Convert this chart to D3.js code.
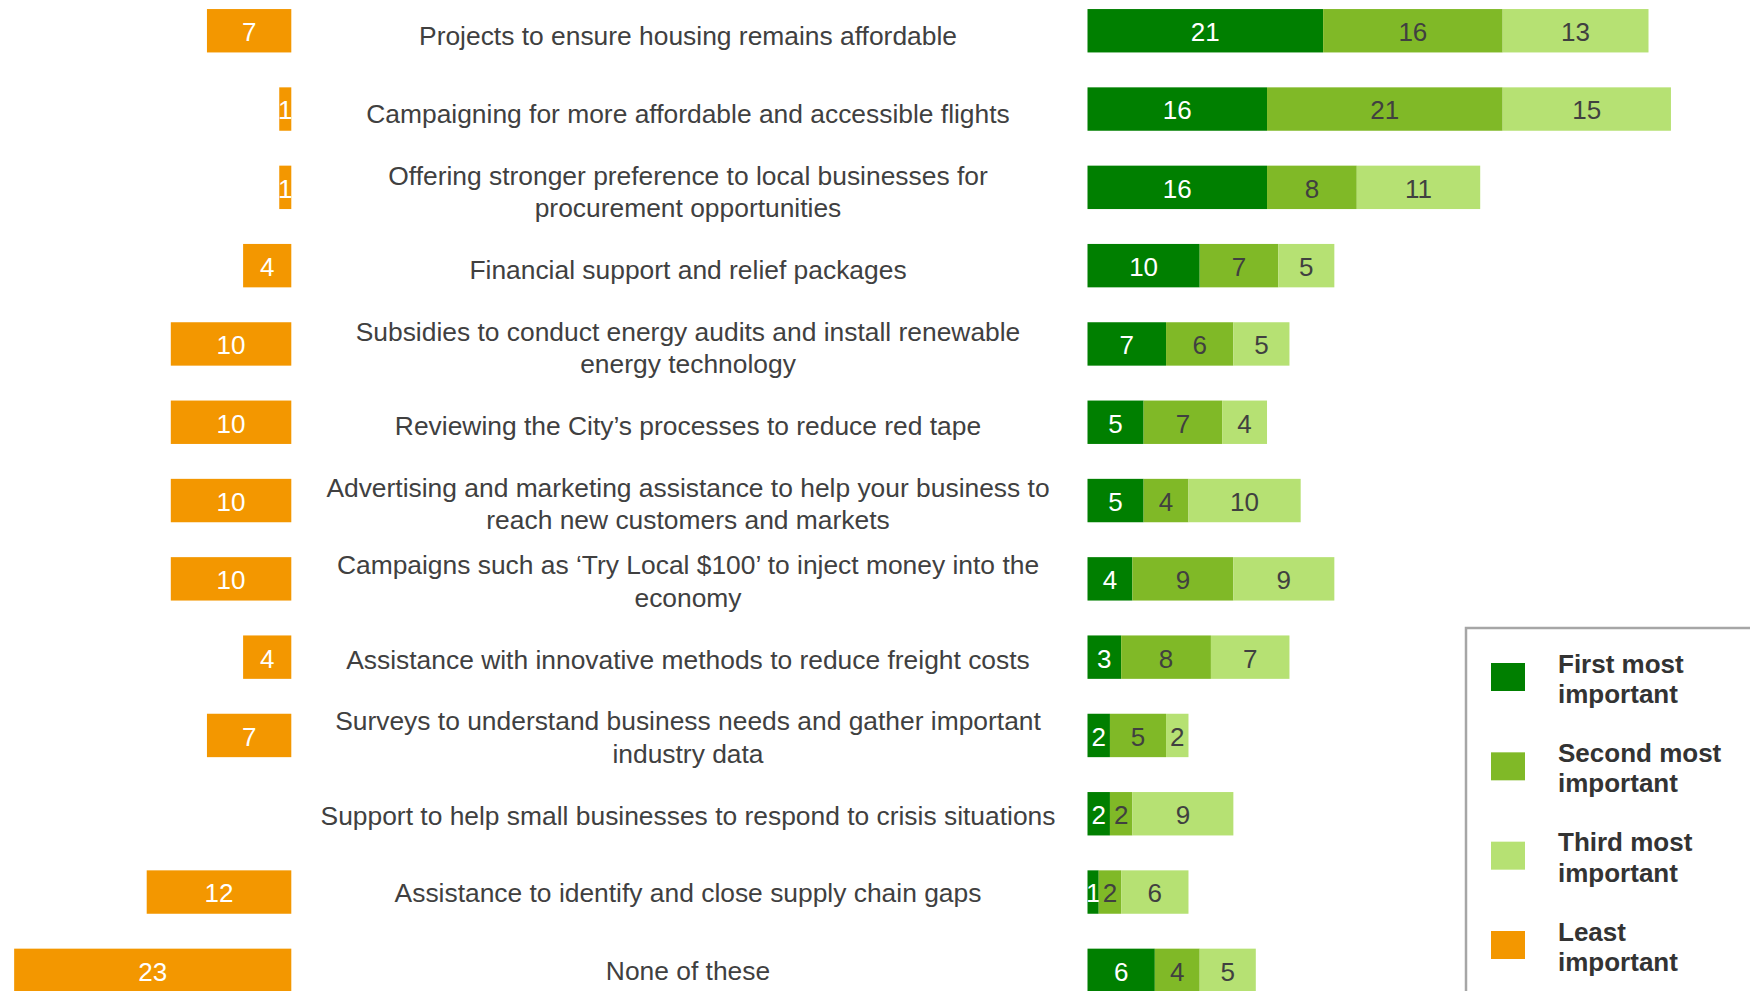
<!DOCTYPE html>
<html>
<head>
<meta charset="utf-8">
<script src="https://cdn.jsdelivr.net/npm/d3@7"></script>
<style>
  html, body { margin: 0; padding: 0; background: #fff; }
  svg { display: block; font-family: "Liberation Sans", Arial, sans-serif; }
</style>
</head>
<body>
<svg id="chart" width="1750" height="991"></svg>
<script>
// Support measures, top to bottom ("\n" marks the line break in the label)
const categories = [
  "Projects to ensure housing remains affordable",
  "Campaigning for more affordable and accessible flights",
  "Offering stronger preference to local businesses for\nprocurement opportunities",
  "Financial support and relief packages",
  "Subsidies to conduct energy audits and install renewable\nenergy technology",
  "Reviewing the City\u2019s processes to reduce red tape",
  "Advertising and marketing assistance to help your business to\nreach new customers and markets",
  "Campaigns such as \u2018Try Local $100\u2019 to inject money into the\neconomy",
  "Assistance with innovative methods to reduce freight costs",
  "Surveys to understand business needs and gather important\nindustry data",
  "Support to help small businesses to respond to crisis situations",
  "Assistance to identify and close supply chain gaps",
  "None of these"
];

const firstMost  = [21, 16, 16, 10, 7, 5, 5, 4, 3, 2, 2, 1, 6];
const secondMost = [16, 21,  8,  7, 6, 7, 4, 9, 8, 5, 2, 2, 4];
const thirdMost  = [13, 15, 11,  5, 5, 4, 10, 9, 7, 2, 9, 6, 5];
const leastImportant = [7, 1, 1, 4, 10, 10, 10, 10, 4, 7, 0, 12, 23];

const seriesNames = ["First most important", "Second most important", "Third most important", "Least important"];
const legendLines = [["First most", "important"], ["Second most", "important"], ["Third most", "important"], ["Least", "important"]];
const colors = ["#007f00", "#80b927", "#b6e173", "#f39700"];
const valueTextColors = ["#ffffff", "#404040", "#404040", "#ffffff"];

const svg = d3.select("#chart");
const FS = 26;
const LABEL_FS = 26.4;

const y = d3.scaleBand()
  .domain(d3.range(categories.length))
  .range([-8.4, -8.4 + categories.length * 78.3])
  .paddingInner(0.4457)
  .paddingOuter(0.2228);

// Label rows sit on a slightly tighter pitch than the bars
const yLabel = d3.scaleLinear().domain([0, categories.length - 1]).range([35.8, 970.9]);

// Left side: "least important" bars growing leftwards
const xLeast = d3.scaleLinear().domain([0, 24]).range([291.3, 2.1]);
// Right side: stacked most-important bars
const xMost = d3.scaleLinear().domain([0, 60]).range([1087.5, 1760.7]);

const rows = categories.map((c, i) => ({
  i, label: c, least: leastImportant[i],
  parts: [firstMost[i], secondMost[i], thirdMost[i]]
}));

// Orange bars
const leastG = svg.append("g");
const leastRows = rows.filter(d => d.least > 0);
leastG.selectAll("rect").data(leastRows).join("rect")
  .attr("x", d => xLeast(d.least))
  .attr("y", d => y(d.i))
  .attr("width", d => xLeast(0) - xLeast(d.least))
  .attr("height", y.bandwidth())
  .attr("fill", colors[3]);
leastG.selectAll("text").data(leastRows).join("text")
  .attr("x", d => (xLeast(0) + xLeast(d.least)) / 2)
  .attr("y", d => y(d.i) + y.bandwidth() / 2 + FS * 0.36 + 1)
  .attr("text-anchor", "middle")
  .attr("font-size", FS)
  .attr("fill", valueTextColors[3])
  .text(d => d.least);

// Stacked green bars
const stack = d3.stack().keys([0, 1, 2]).value((d, k) => d.parts[k]);
const stacked = stack(rows);
const mostG = svg.append("g");
stacked.forEach((layer, k) => {
  const g = mostG.append("g");
  g.selectAll("rect").data(layer).join("rect")
    .attr("x", d => xMost(d[0]))
    .attr("y", d => y(d.data.i))
    .attr("width", d => xMost(d[1]) - xMost(d[0]))
    .attr("height", y.bandwidth())
    .attr("fill", colors[k]);
  g.selectAll("text").data(layer).join("text")
    .attr("x", d => (xMost(d[0]) + xMost(d[1])) / 2)
    .attr("y", d => y(d.data.i) + y.bandwidth() / 2 + FS * 0.36 + 1)
    .attr("text-anchor", "middle")
    .attr("font-size", FS)
    .attr("fill", valueTextColors[k])
    .text(d => d[1] - d[0]);
});

// Category labels, centred between the two bar groups
const LH = 32.6;
const labelG = svg.append("g");
rows.forEach(d => {
  const lines = d.label.split("\n");
  const cy = yLabel(d.i);
  const t = labelG.append("text")
    .attr("text-anchor", "middle")
    .attr("font-size", LABEL_FS)
    .attr("fill", "#404040");
  lines.forEach((ln, j) => {
    t.append("tspan")
      .attr("x", 688)
      .attr("y", cy - (lines.length - 1) * LH / 2 + j * LH + LABEL_FS * 0.36)
      .text(ln);
  });
});

// Legend
const legend = svg.append("g");
legend.append("rect")
  .attr("x", 1466).attr("y", 628)
  .attr("width", 400).attr("height", 500)
  .attr("fill", "#fff")
  .attr("stroke", "#a6a6a6")
  .attr("stroke-width", 2.5);
const legendY = d3.scalePoint().domain(d3.range(4)).range([677, 945]);
seriesNames.forEach((name, k) => {
  const cy = legendY(k);
  legend.append("rect")
    .attr("x", 1491).attr("y", cy - 14)
    .attr("width", 34).attr("height", 28)
    .attr("fill", colors[k]);
  const t = legend.append("text")
    .attr("font-size", FS)
    .attr("font-weight", "bold")
    .attr("fill", "#333333");
  legendLines[k].forEach((ln, j) => {
    t.append("tspan").attr("x", 1558).attr("y", cy - 4.3 + j * 30.3).text(ln);
  });
});
</script>
</body>
</html>
